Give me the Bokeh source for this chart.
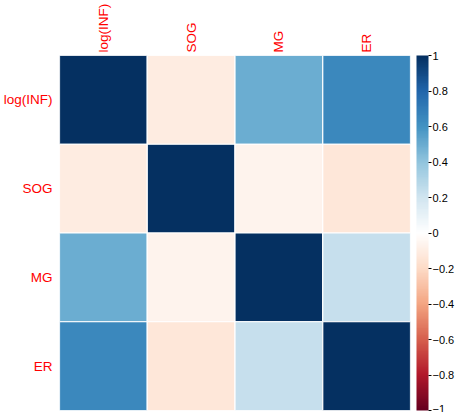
import numpy as np
from bokeh.plotting import figure
from bokeh.models import (ColumnDataSource, ColorBar, LinearColorMapper, FixedTicker,
                          FactorRange)
from bokeh.transform import transform
from bokeh.embed import file_html
from bokeh.resources import INLINE

# Variables and their pairwise correlations
variables = ["log(INF)", "SOG", "MG", "ER"]
corr_logINF = [1.00, -0.11, 0.49, 0.64]
corr_SOG = [-0.11, 1.00, -0.06, -0.14]
corr_MG = [0.49, -0.06, 1.00, 0.23]
corr_ER = [0.64, -0.14, 0.23, 1.00]
colorbar_ticks = [-1, -0.8, -0.6, -0.4, -0.2, 0, 0.2, 0.4, 0.6, 0.8, 1]

# Diverging red-white-blue ramp (200 steps)
anchors = ["#67001F", "#B2182B", "#D6604D", "#F4A582", "#FDDBC7", "#FFFFFF",
           "#D1E5F0", "#92C5DE", "#4393C3", "#2166AC", "#053061"]
rgb = np.array([[int(c[i:i + 2], 16) for i in (1, 3, 5)] for c in anchors], dtype=float)
pos = np.linspace(0, 1, len(anchors))
steps = np.linspace(0, 1, 200)
palette = ["#%02x%02x%02x" % tuple(int(round(np.interp(s, pos, rgb[:, k]))) for k in range(3))
           for s in steps]

matrix = [corr_logINF, corr_SOG, corr_MG, corr_ER]
xs, ys, vals = [], [], []
for r, row_name in enumerate(variables):
    for c, col_name in enumerate(variables):
        xs.append(col_name)
        ys.append(row_name)
        vals.append(matrix[r][c])
source = ColumnDataSource(dict(x=xs, y=ys, v=vals))

mapper = LinearColorMapper(palette=palette, low=-1, high=1)

p = figure(width=457, height=412, output_backend="svg", toolbar_location=None,
           x_range=FactorRange(*variables), y_range=FactorRange(*reversed(variables)),
           x_axis_location="above", min_border_left=0, min_border_top=0,
           min_border_right=0, min_border_bottom=2)
p.outline_line_color = None
p.grid.grid_line_color = None

p.rect(x="x", y="y", width=1, height=1, source=source,
       fill_color=transform("v", mapper), line_color="white", line_width=1.2)

# Variable names on the left and, rotated, above the grid
for ax in (p.xaxis[0], p.yaxis[0]):
    ax.axis_line_color = None
    ax.major_tick_line_color = None
    ax.minor_tick_line_color = None
    ax.major_tick_out = 0
    ax.major_tick_in = 0
    ax.major_label_text_color = "#FF0000"
    ax.major_label_text_font = "Liberation Sans"
    ax.major_label_text_font_size = "13.5px"
p.yaxis.major_label_standoff = 7
p.xaxis.major_label_standoff = 3
p.xaxis.major_label_orientation = np.pi / 2

cb = ColorBar(color_mapper=mapper, width=12, padding=0, margin=0, location=(6, 0),
              ticker=FixedTicker(ticks=colorbar_ticks),
              major_tick_in=0, major_tick_out=3, major_tick_line_color="black",
              bar_line_color=None,
              major_label_text_font="Liberation Sans", major_label_text_font_size="11px",
              major_label_text_color="black", label_standoff=1,
              background_fill_color=None, border_line_color=None)
p.add_layout(cb, "right")

open("out.html", "w").write(file_html(p, INLINE))
